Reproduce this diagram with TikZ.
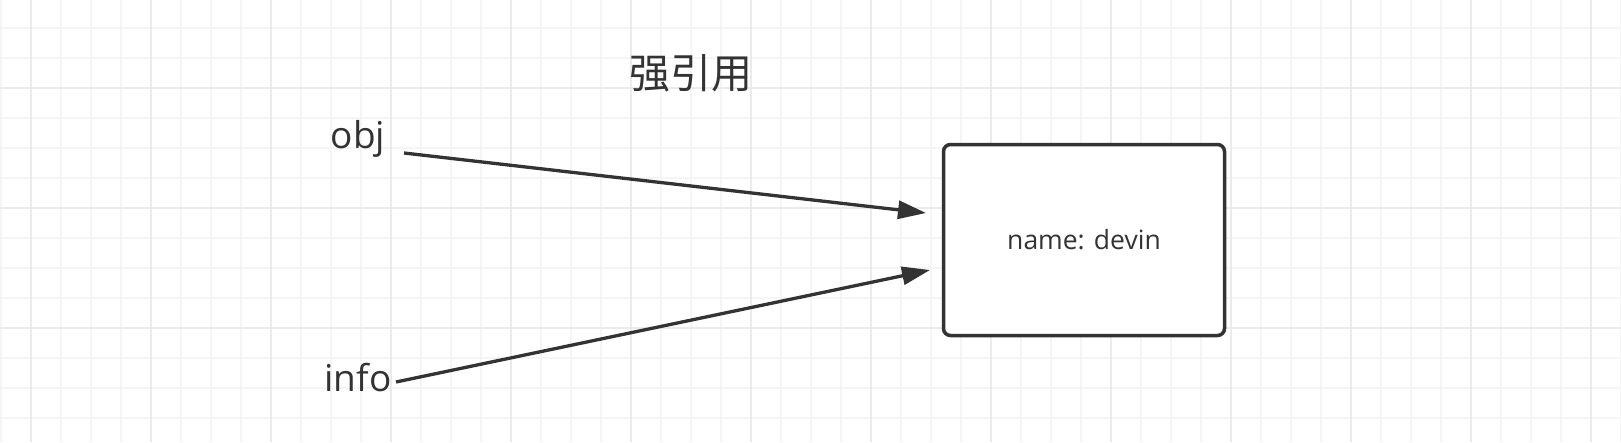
\documentclass[tikz,border=0pt]{standalone}
\usepackage{fontspec}
\setmainfont{Open Sans}
\newfontfamily\cjk{Noto Sans CJK SC}
\usetikzlibrary{arrows.meta}
\definecolor{ink}{HTML}{333333}
\definecolor{gridminor}{HTML}{F5F5F5}
\definecolor{gridmajor}{HTML}{EBEBEB}
\begin{document}
\begin{tikzpicture}[x=1pt,y=-1pt,
  lbl/.style={text=ink,inner sep=0pt,font=\fontsize{#1}{#1}\selectfont},
  objbox/.style={draw=ink,line width=3.5pt,rounded corners=7pt,fill=white,
    minimum width=281pt,minimum height=191pt,inner sep=0pt,text=ink,
    font=\fontsize{26.5}{26.5}\selectfont},
  conn/.style={draw=ink,line width=3.3pt,-{Triangle[length=28pt,width=18pt]}}]
\useasboundingbox (0,0) rectangle (1621,442);
\fill[white] (0,0) rectangle (1621,442);
% grid
\foreach \i in {0,...,54} {\draw[gridminor,line width=1.2pt] (1+30*\i,0) -- (1+30*\i,442);}
\foreach \j in {-1,...,14} {\draw[gridminor,line width=1.2pt] (0,28+30*\j) -- (1621,28+30*\j);}
\foreach \i in {0,...,13} {\draw[gridmajor,line width=1.6pt] (31+120*\i,0) -- (31+120*\i,442);}
\foreach \j in {0,...,2} {\draw[gridmajor,line width=1.6pt] (0,88+120*\j) -- (1621,88+120*\j);}
% nodes
\node[lbl=41] (title) at (691,73) {\cjk 强引用};
\node[lbl=37] (obj) at (358,139) {obj};
\node[lbl=37] (info) at (358,378) {info};
\node[objbox] (rec) at (1084,240) {name: devin};
\coordinate (objout) at (404,153);
\coordinate (infoout) at (396,382);
\coordinate (tip1) at (926,213);
\coordinate (tip2) at (930,270);
\draw[conn] (objout) -- (tip1);
\draw[conn] (infoout) -- (tip2);
\end{tikzpicture}
\end{document}
